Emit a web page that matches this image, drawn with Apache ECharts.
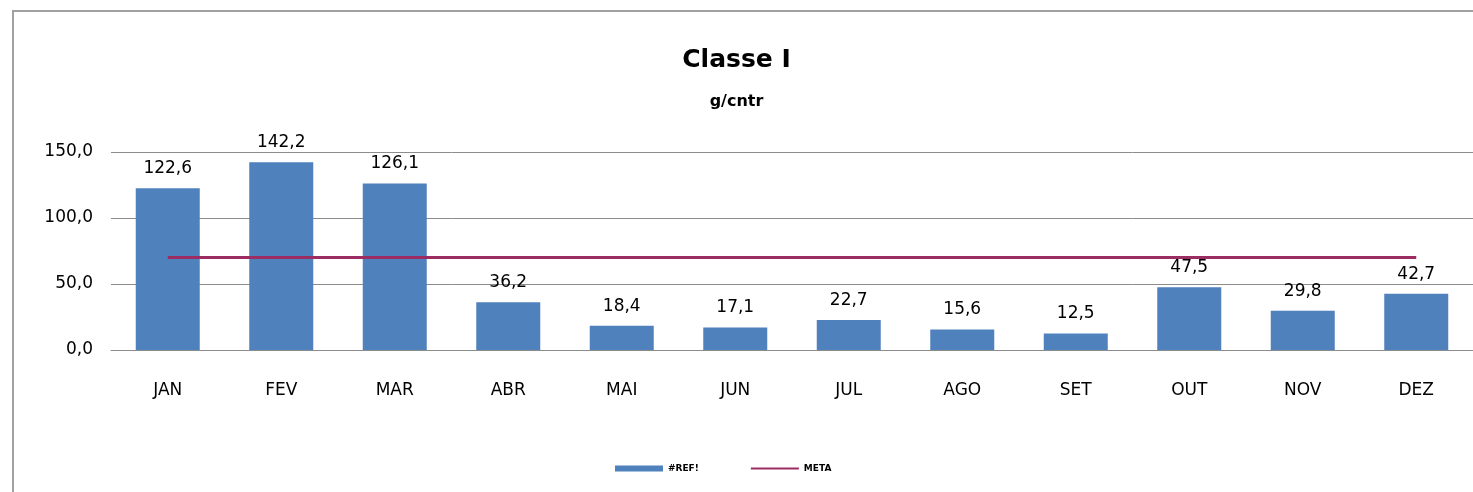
<!DOCTYPE html>
<html>
<head>
<meta charset="utf-8">
<script src="https://cdn.jsdelivr.net/npm/echarts@6/dist/echarts.min.js"></script>
<style>
  html, body { margin: 0; padding: 0; background: #fff; }
  #main { width: 1473px; height: 492px; }
</style>
</head>
<body>
<div id="main"></div>
<script>
// meses
var categories = ['JAN', 'FEV', 'MAR', 'ABR', 'MAI', 'JUN', 'JUL', 'AGO', 'SET', 'OUT', 'NOV', 'DEZ'];
// valores g/cntr
var refValues = [122.6, 142.2, 126.1, 36.2, 18.4, 17.1, 22.7, 15.6, 12.5, 47.5, 29.8, 42.7];
var metaValues = [70, 70, 70, 70, 70, 70, 70, 70, 70, 70, 70, 70];
var yTicks = [0, 50, 100, 150];

function fmt(v) {
    return v.toFixed(1).replace('.', ',');
}

var myChart = echarts.init(document.getElementById('main'));
myChart.setOption({
    animation: false,
    textStyle: { fontFamily: 'DejaVu Sans' },
    graphic: [{
        type: 'rect',
        shape: { x: 13, y: 11, width: 1500, height: 520 },
        style: { fill: 'none', stroke: '#a0a0a0', lineWidth: 2 },
        silent: true
    }],
    title: {
        text: 'Classe I',
        subtext: 'g/cntr',
        left: 'center',
        top: 43,
        itemGap: 21,
        textStyle: { fontSize: 25, fontWeight: 'bold', color: '#000', fontFamily: 'DejaVu Sans' },
        subtextStyle: { fontSize: 16, fontWeight: 'bold', color: '#000', fontFamily: 'DejaVu Sans' }
    },
    legend: {
        bottom: 14,
        left: 610,
        itemGap: 52,
        itemWidth: 48,
        itemHeight: 6,
        textStyle: { fontSize: 9, fontWeight: 'bold', color: '#000' },
        data: [
            { name: '#REF!', icon: 'rect' },
            { name: 'META', icon: 'path://M0,2 L48,2 L48,4 L0,4 Z' }
        ]
    },
    grid: { left: 111, right: 0, top: 152, bottom: 142 },
    xAxis: {
        type: 'category',
        data: categories,
        axisTick: { show: false },
        axisLine: { lineStyle: { color: '#8c8c8c', width: 1 } },
        axisLabel: { color: '#000', fontSize: 17, margin: 32 }
    },
    yAxis: {
        type: 'value',
        min: yTicks[0],
        max: yTicks[yTicks.length - 1],
        interval: 50,
        axisLine: { show: false },
        axisTick: { show: false },
        axisLabel: { color: '#000', fontSize: 17, margin: 18, formatter: fmt },
        splitLine: { lineStyle: { color: '#8c8c8c', width: 1 } }
    },
    series: [{
        name: '#REF!',
        type: 'bar',
        data: refValues,
        barWidth: 64,
        itemStyle: { color: '#4f81bd' },
        label: {
            show: true,
            position: 'top',
            distance: 11,
            fontSize: 17,
            color: '#000',
            formatter: function (p) { return fmt(p.value); }
        }
    }, {
        name: 'META',
        type: 'line',
        data: metaValues,
        symbol: 'none',
        z: 3,
        lineStyle: { color: '#9b2d63', width: 3 },
        itemStyle: { color: '#9b2d63' }
    }]
});
</script>
</body>
</html>
